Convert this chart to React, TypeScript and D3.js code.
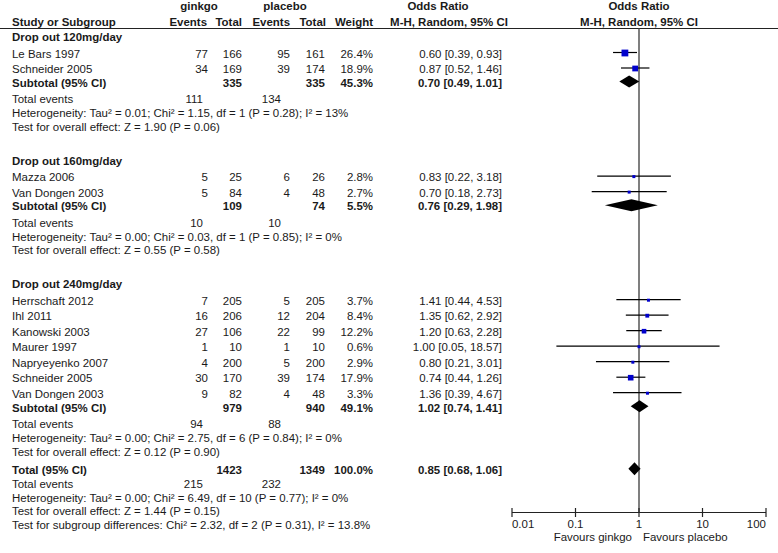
import React from "react";
import * as d3 from "d3";

const groupTitles = ["Drop out 120mg/day", "Drop out 160mg/day", "Drop out 240mg/day"];
const studyGroup = [0, 0, 1, 1, 2, 2, 2, 2, 2, 2, 2];
const studyNames = [
  "Le Bars 1997", "Schneider 2005",
  "Mazza 2006", "Van Dongen 2003",
  "Herrschaft 2012", "Ihl 2011", "Kanowski 2003", "Maurer 1997", "Napryeyenko 2007", "Schneider 2005", "Van Dongen 2003",
];
const ginkgoEvents = [77, 34, 5, 5, 7, 16, 27, 1, 4, 30, 9];
const ginkgoTotals = [166, 169, 25, 84, 205, 206, 106, 10, 200, 170, 82];
const placeboEvents = [95, 39, 6, 4, 5, 12, 22, 1, 5, 39, 4];
const placeboTotals = [161, 174, 26, 48, 205, 204, 99, 10, 200, 174, 48];
const weights = [26.4, 18.9, 2.8, 2.7, 3.7, 8.4, 12.2, 0.6, 2.9, 17.9, 3.3];
const oddsRatios = [0.6, 0.87, 0.83, 0.7, 1.41, 1.35, 1.2, 1.0, 0.8, 0.74, 1.36];
const ciLower = [0.39, 0.52, 0.22, 0.18, 0.44, 0.62, 0.63, 0.05, 0.21, 0.44, 0.39];
const ciUpper = [0.93, 1.46, 3.18, 2.73, 4.53, 2.92, 2.28, 18.57, 3.01, 1.26, 4.67];

const subtotalGinkgo = [335, 109, 979];
const subtotalPlacebo = [335, 74, 940];
const subtotalWeight = [45.3, 5.5, 49.1];
const subtotalOR = [0.7, 0.76, 1.02];
const subtotalLo = [0.49, 0.29, 0.74];
const subtotalHi = [1.01, 1.98, 1.41];
const groupEventsGinkgo = [111, 10, 94];
const groupEventsPlacebo = [134, 10, 88];
const groupHeterogeneity = [
  "Heterogeneity: Tau² = 0.01; Chi² = 1.15, df = 1 (P = 0.28); I² = 13%",
  "Heterogeneity: Tau² = 0.00; Chi² = 0.03, df = 1 (P = 0.85); I² = 0%",
  "Heterogeneity: Tau² = 0.00; Chi² = 2.75, df = 6 (P = 0.84); I² = 0%",
];
const groupOverallEffect = [
  "Test for overall effect: Z = 1.90 (P = 0.06)",
  "Test for overall effect: Z = 0.55 (P = 0.58)",
  "Test for overall effect: Z = 0.12 (P = 0.90)",
];

const totalGinkgo = 1423;
const totalPlacebo = 1349;
const totalWeight = 100.0;
const totalOR = 0.85;
const totalLo = 0.68;
const totalHi = 1.06;
const totalEventsGinkgo = 215;
const totalEventsPlacebo = 232;
const totalHeterogeneity = "Heterogeneity: Tau² = 0.00; Chi² = 6.49, df = 10 (P = 0.77); I² = 0%";
const totalOverallEffect = "Test for overall effect: Z = 1.44 (P = 0.15)";
const subgroupDifferences = "Test for subgroup differences: Chi² = 2.32, df = 2 (P = 0.31), I² = 13.8%";

const axisTicks = [0.01, 0.1, 1, 10, 100];
const axisTickLabels = ["0.01", "0.1", "1", "10", "100"];
const favoursLeft = "Favours ginkgo";
const favoursRight = "Favours placebo";

// layout
const W = 778;
const H = 553;
const FONT = "'Liberation Sans', Arial, sans-serif";
const FS = 11.7;
const SX = 0.98;
const TXT = "#1a1a1a";
const COL = { name: 12, gE: 208, gT: 242, pE: 290, pT: 325, w: 373, ci: 502, evG: 203, evP: 281 };

const fmtOR = (o: number, l: number, h: number) => `${o.toFixed(2)} [${l.toFixed(2)}, ${h.toFixed(2)}]`;

type Row = { kind: string; y: number; idx?: number };

function buildRows(): Row[] {
  const rows: Row[] = [];
  let y = 37;
  groupTitles.forEach((_, g) => {
    if (g > 0) y += 34;
    rows.push({ kind: "title", y, idx: g });
    const members = studyGroup.map((sg, i) => (sg === g ? i : -1)).filter((i) => i >= 0);
    members.forEach((i, k) => {
      y += k === 0 ? 16.5 : 15.5;
      rows.push({ kind: "study", y, idx: i });
    });
    y += 13.6;
    rows.push({ kind: "subtotal", y, idx: g });
    y += 16.5;
    rows.push({ kind: "events", y, idx: g });
    y += 13.7;
    rows.push({ kind: "het", y, idx: g });
    y += 13.8;
    rows.push({ kind: "effect", y, idx: g });
  });
  y += 18.5;
  rows.push({ kind: "total", y });
  y += 14;
  rows.push({ kind: "totalEvents", y });
  y += 13.6;
  rows.push({ kind: "totalHet", y });
  y += 13.6;
  rows.push({ kind: "totalEffect", y });
  y += 13.8;
  rows.push({ kind: "subgroup", y });
  return rows;
}

const T = (props: any) => (
  <text
    transform={`translate(${props.x},${props.y}) scale(${SX},1)`}
    dy="0.36em"
    textAnchor={props.anchor || "start"}
    fontWeight={props.bold ? "bold" : "normal"}
    fill={TXT}
  >
    {props.children}
  </text>
);

export default function App() {
  const x = d3.scaleLog().domain([0.01, 100]).range([512, 766]);
  const sq = d3.scaleSqrt().domain([0, 26.4]).range([0, 6.8]);
  const rows = buildRows();
  const axisY = 512.5;
  const lineTop = 28.5;

  const diamond = (y: number, o: number, l: number, h: number, half = 6) => {
    const p = d3.path();
    p.moveTo(x(l), y);
    p.lineTo(x(o), y - half);
    p.lineTo(x(h), y);
    p.lineTo(x(o), y + half);
    p.closePath();
    return <path d={p.toString()} fill="#000" />;
  };

  const elements: any[] = [];
  rows.forEach((r, k) => {
    const y = r.y;
    const i = r.idx as number;
    if (r.kind === "title") {
      elements.push(<T key={k} x={COL.name} y={y} bold>{groupTitles[i]}</T>);
    } else if (r.kind === "study") {
      const s = Math.max(3, sq(weights[i]));
      const my = y - 1;
      elements.push(
        <g key={k}>
          <T x={COL.name} y={y}>{studyNames[i]}</T>
          <T x={COL.gE} y={y} anchor="end">{ginkgoEvents[i]}</T>
          <T x={COL.gT} y={y} anchor="end">{ginkgoTotals[i]}</T>
          <T x={COL.pE} y={y} anchor="end">{placeboEvents[i]}</T>
          <T x={COL.pT} y={y} anchor="end">{placeboTotals[i]}</T>
          <T x={COL.w} y={y} anchor="end">{weights[i].toFixed(1) + "%"}</T>
          <T x={COL.ci} y={y} anchor="end">{fmtOR(oddsRatios[i], ciLower[i], ciUpper[i])}</T>
          <line x1={x(ciLower[i])} x2={x(ciUpper[i])} y1={my} y2={my} stroke="#000" strokeWidth={1.2} />
          <rect x={x(oddsRatios[i]) - s / 2} y={my - s / 2 + 0.5} width={s} height={s} fill="#0000cc" />
        </g>
      );
    } else if (r.kind === "subtotal") {
      elements.push(
        <g key={k}>
          <T x={COL.name} y={y} bold>Subtotal (95% CI)</T>
          <T x={COL.gT} y={y} anchor="end" bold>{subtotalGinkgo[i]}</T>
          <T x={COL.pT} y={y} anchor="end" bold>{subtotalPlacebo[i]}</T>
          <T x={COL.w} y={y} anchor="end" bold>{subtotalWeight[i].toFixed(1) + "%"}</T>
          <T x={COL.ci} y={y} anchor="end" bold>{fmtOR(subtotalOR[i], subtotalLo[i], subtotalHi[i])}</T>
          {diamond(y - 1, subtotalOR[i], subtotalLo[i], subtotalHi[i])}
        </g>
      );
    } else if (r.kind === "events") {
      elements.push(
        <g key={k}>
          <T x={COL.name} y={y}>Total events</T>
          <T x={COL.evG} y={y} anchor="end">{groupEventsGinkgo[i]}</T>
          <T x={COL.evP} y={y} anchor="end">{groupEventsPlacebo[i]}</T>
        </g>
      );
    } else if (r.kind === "het") {
      elements.push(<T key={k} x={COL.name} y={y}>{groupHeterogeneity[i]}</T>);
    } else if (r.kind === "effect") {
      elements.push(<T key={k} x={COL.name} y={y}>{groupOverallEffect[i]}</T>);
    } else if (r.kind === "total") {
      elements.push(
        <g key={k}>
          <T x={COL.name} y={y} bold>Total (95% CI)</T>
          <T x={COL.gT} y={y} anchor="end" bold>{totalGinkgo}</T>
          <T x={COL.pT} y={y} anchor="end" bold>{totalPlacebo}</T>
          <T x={COL.w} y={y} anchor="end" bold>{totalWeight.toFixed(1) + "%"}</T>
          <T x={COL.ci} y={y} anchor="end" bold>{fmtOR(totalOR, totalLo, totalHi)}</T>
          {diamond(y - 1, totalOR, totalLo, totalHi, 6.5)}
        </g>
      );
    } else if (r.kind === "totalEvents") {
      elements.push(
        <g key={k}>
          <T x={COL.name} y={y}>Total events</T>
          <T x={COL.evG} y={y} anchor="end">{totalEventsGinkgo}</T>
          <T x={COL.evP} y={y} anchor="end">{totalEventsPlacebo}</T>
        </g>
      );
    } else if (r.kind === "totalHet") {
      elements.push(<T key={k} x={COL.name} y={y}>{totalHeterogeneity}</T>);
    } else if (r.kind === "totalEffect") {
      elements.push(<T key={k} x={COL.name} y={y}>{totalOverallEffect}</T>);
    } else if (r.kind === "subgroup") {
      elements.push(<T key={k} x={COL.name} y={y}>{subgroupDifferences}</T>);
    }
  });

  return (
    <svg
      width={W}
      height={H}
      style={{ position: "absolute", left: 0, top: 0, background: "#fff" }}
      fontFamily={FONT}
      fontSize={FS}
    >
      {/* header */}
      <T x={199} y={6} anchor="middle" bold>ginkgo</T>
      <T x={285} y={6} anchor="middle" bold>placebo</T>
      <T x={COL.name} y={21.5} bold>Study or Subgroup</T>
      <T x={COL.gE - 1} y={21.5} anchor="end" bold>Events</T>
      <T x={COL.gT} y={21.5} anchor="end" bold>Total</T>
      <T x={COL.pE} y={21.5} anchor="end" bold>Events</T>
      <T x={COL.pT + 1} y={21.5} anchor="end" bold>Total</T>
      <T x={COL.w} y={21.5} anchor="end" bold>Weight</T>
      <T x={438} y={6} anchor="middle" bold>Odds Ratio</T>
      <T x={449} y={21.5} anchor="middle" bold>M-H, Random, 95% CI</T>
      <T x={x(1)} y={6} anchor="middle" bold>Odds Ratio</T>
      <T x={x(1)} y={21.5} anchor="middle" bold>M-H, Random, 95% CI</T>
      <line x1={0} x2={W} y1={lineTop} y2={lineTop} stroke="#222" strokeWidth={1} />
      {/* null line */}
      <line x1={x(1)} x2={x(1)} y1={lineTop} y2={axisY} stroke="#555" strokeWidth={1.5} />
      {elements}
      {/* axis */}
      <line x1={x(0.01)} x2={x(100)} y1={axisY} y2={axisY} stroke="#222" strokeWidth={1.2} />
      {axisTicks.map((t, i) => (
        <g key={"tick" + i}>
          <line x1={x(t)} x2={x(t)} y1={axisY - 4.5} y2={axisY + 4.5} stroke="#222" strokeWidth={1.2} />
          <T
            x={x(t)}
            y={axisY + 11}
            anchor={i === 0 ? "start" : i === axisTicks.length - 1 ? "end" : "middle"}
          >
            {axisTickLabels[i]}
          </T>
        </g>
      ))}
      <T x={x(1) - 7} y={axisY + 24.5} anchor="end">{favoursLeft}</T>
      <T x={x(1) + 4} y={axisY + 24.5}>{favoursRight}</T>
    </svg>
  );
}
